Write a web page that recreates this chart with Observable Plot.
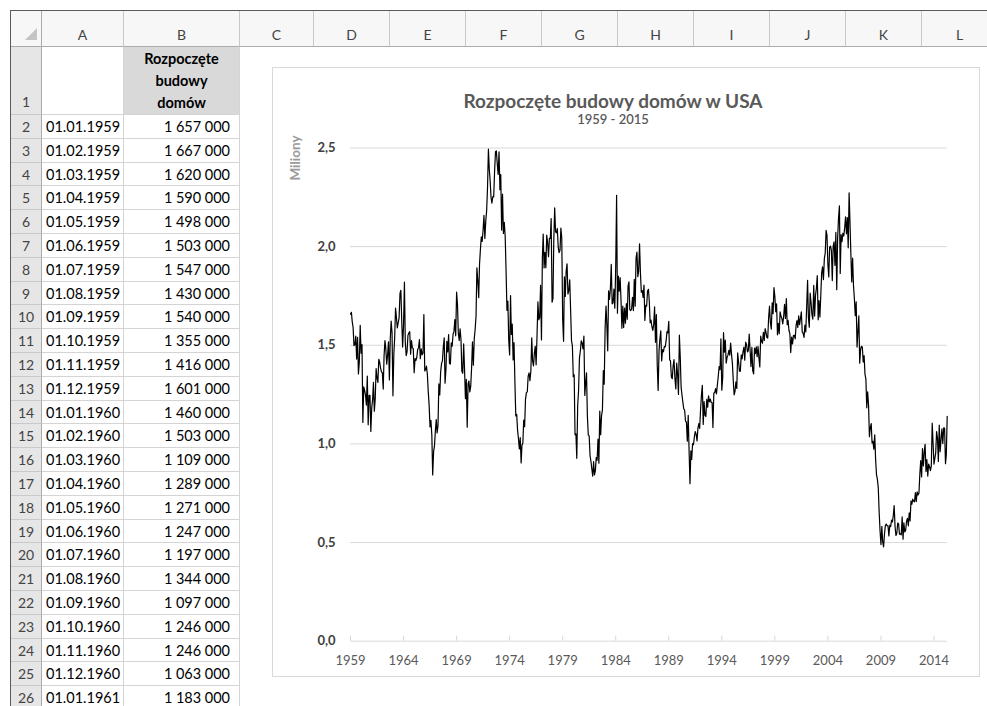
<!DOCTYPE html>
<html><head><meta charset="utf-8">
<script src="https://cdn.jsdelivr.net/npm/d3@7"></script>
<script src="https://cdn.jsdelivr.net/npm/@observablehq/plot@0.6"></script>
<style>
html,body{margin:0;padding:0;background:#fff;}
body{width:987px;height:706px;overflow:hidden;position:relative;font-family:Lato,"Open Sans",sans-serif;color:#000;}
.a{position:absolute;box-sizing:border-box;}
.colh{background:#f7f7f7;border-right:1px solid #c9c9c9;border-bottom:1px solid #ababab;text-align:center;color:#444;font-size:14px;padding-top:15px;}
.rowh{background:#e6e6e6;border-right:1px solid #ababab;border-bottom:1px solid #c9c9c9;text-align:center;color:#444;font-size:14px;}
.cell{border-right:1px solid #d4d4d4;border-bottom:1px solid #d4d4d4;font-size:14.5px;white-space:nowrap;}
#chartbox{left:272px;top:67px;width:708px;height:610px;border:1px solid #d9d9d9;background:#fff;}
#title{left:272px;width:682px;top:90px;height:22px;line-height:22px;text-align:center;font-weight:bold;font-size:19px;color:#595959;}
#subtitle{left:272px;width:682px;top:112px;height:14px;line-height:14px;text-align:center;font-size:13px;color:#595959;font-weight:600;}
#ylab{left:270px;top:150px;width:50px;height:16px;line-height:16px;text-align:center;font-size:13.5px;font-weight:bold;color:#9a9a9a;transform-origin:25px 8px;transform:rotate(-90deg);}
#plot{left:273px;top:130px;}
#plot svg g[aria-label="y-axis tick label"] text{font-weight:bold;font-size:13px;}
#plot svg g[aria-label="x-axis tick label"] text{font-size:13px;}
</style></head><body>
<div id="sheet"></div>
<div class="a" id="chartbox"></div>
<div class="a" id="title">Rozpoczęte budowy domów w USA</div>
<div class="a" id="subtitle">1959 - 2015</div>
<div class="a" id="ylab">Miliony</div>
<div class="a" id="plot"></div>
<script>
// Monthly US housing starts, thousands (seasonally adjusted annual rate)
const firstYear = 1959;
const starts1959_1963 = [
1657,1667,1620,1590,1498,1503,1547,1430,1540,1355,1416,1601,
1460,1503,1109,1289,1271,1247,1197,1344,1097,1246,1246,1063,
1183,1226,1312,1166,1228,1382,1335,1312,1429,1415,1385,1365,
1361,1278,1443,1524,1483,1404,1450,1517,1324,1533,1622,1564,
1244,1456,1534,1689,1641,1588,1614,1639,1763,1779,1622,1491];
const starts1964_1968 = [
1603,1820,1517,1448,1467,1550,1562,1569,1455,1524,1486,1484,
1361,1433,1423,1438,1478,1488,1529,1432,1482,1452,1460,1656,
1370,1378,1394,1352,1265,1194,1086,1119,1046,843,961,990,
1067,1123,1056,1091,1304,1248,1364,1407,1421,1491,1538,1308,
1380,1520,1466,1554,1408,1405,1512,1495,1556,1569,1630,1548];
const starts1969_1973 = [
1769,1705,1561,1524,1583,1528,1368,1358,1507,1381,1229,1327,
1085,1305,1319,1264,1290,1385,1517,1399,1534,1580,1647,1893,
1828,1741,1910,1986,2049,2026,2083,2158,2041,2128,2182,2295,
2494,2390,2334,2249,2221,2254,2252,2382,2481,2485,2421,2366,
2481,2289,2365,2084,2266,2067,2123,2051,1874,1677,1724,1526];
const starts1974_1978 = [
1451,1752,1555,1607,1426,1513,1316,1142,1150,1070,1026,975,
1032,904,993,1005,1121,1087,1226,1260,1264,1344,1360,1321,
1367,1538,1421,1395,1459,1495,1401,1550,1720,1629,1641,1804,
1527,1943,2063,1892,1971,1893,2058,2020,1949,2042,2042,2142,
1718,1738,2032,2197,2075,2070,2092,1996,1970,1981,2094,2044];
const starts1979_1983 = [
1630,1520,1847,1748,1876,1913,1760,1778,1832,1681,1524,1498,
1341,1350,1047,1051,927,1196,1269,1436,1471,1523,1510,1482,
1547,1246,1306,1360,1140,1045,1041,940,911,873,837,910,
843,866,931,917,1025,902,1166,1046,1144,1173,1372,1303,
1586,1699,1606,1472,1776,1733,1785,1910,1710,1715,1785,1688];
const starts1984_1988 = [
1897,2260,1663,1851,1774,1843,1732,1586,1698,1590,1689,1612,
1711,1632,1800,1821,1680,1676,1684,1743,1676,1834,1698,1942,
1972,1848,1876,2014,1868,1769,1778,1743,1805,1626,1703,1699,
1774,1784,1726,1614,1628,1594,1575,1605,1695,1515,1656,1400,
1271,1473,1532,1573,1421,1478,1467,1493,1492,1522,1569,1563];
const starts1989_1993 = [
1621,1425,1422,1339,1331,1397,1427,1332,1279,1410,1351,1251,
1551,1437,1289,1248,1212,1177,1171,1115,1110,1014,1145,969,
798,965,921,1001,996,1036,1063,1049,1015,1079,1103,1079,
1176,1250,1297,1099,1214,1145,1139,1226,1186,1244,1214,1227,
1210,1210,1083,1258,1260,1280,1254,1300,1343,1392,1376,1533];
const starts1994_1998 = [
1272,1337,1564,1465,1526,1409,1439,1450,1474,1450,1511,1455,
1407,1316,1249,1267,1314,1281,1461,1416,1369,1369,1452,1431,
1467,1491,1424,1516,1504,1467,1472,1557,1475,1392,1489,1370,
1355,1486,1457,1492,1442,1494,1437,1390,1546,1520,1510,1566,
1525,1584,1567,1540,1536,1641,1698,1614,1582,1715,1660,1792];
const starts1999_2003 = [
1748,1670,1710,1553,1611,1559,1669,1648,1635,1608,1648,1708,
1636,1737,1604,1626,1575,1559,1463,1541,1507,1549,1551,1532,
1600,1625,1590,1649,1605,1636,1670,1567,1562,1540,1602,1568,
1698,1829,1642,1592,1764,1717,1655,1633,1804,1648,1753,1788,
1853,1629,1726,1643,1751,1867,1897,1833,1939,1967,2083,2057];
const starts2004_2008 = [
1911,1846,1998,2003,1981,1828,2002,2024,1905,2072,1782,2042,
2144,2207,1864,2061,2025,2068,2054,2095,2151,2065,2147,1994,
2273,2119,1969,1821,1942,1802,1737,1650,1720,1491,1570,1649,
1409,1480,1495,1490,1415,1448,1354,1330,1183,1264,1197,1037,
1084,1103,1005,1013,973,1046,923,844,820,777,652,560];
const starts2009_2015 = [
490,582,505,478,540,585,594,586,585,534,588,581,
614,604,636,687,583,536,546,599,594,543,545,539,
630,517,600,554,561,608,623,585,650,610,711,694,
720,710,706,753,708,757,741,750,847,915,833,976,
888,962,998,860,920,837,898,885,865,889,1105,1003,
897,928,954,1063,1030,911,1095,961,1023,1077,1002,1081,
1080,900,944,1140];

const xTickYears = [1959,1964,1969,1974,1979,1984,1989,1994,1999,2004,2009,2014];
const yTicks = [0,0.5,1,1.5,2,2.5];
const columnLetters = ["A","B","C","D","E","F","G","H","I","J","K","L"];
const headerLines = ["Rozpoczęte","budowy","domów"];
const visibleRows = 25;

const allStarts = [].concat(starts1959_1963,starts1964_1968,starts1969_1973,starts1974_1978,
  starts1979_1983,starts1984_1988,starts1989_1993,starts1994_1998,starts1999_2003,starts2004_2008,starts2009_2015);
const series = allStarts.map((v,i)=>({date:new Date(Date.UTC(firstYear+Math.floor(i/12), i%12, 1)), value:v/1000, raw:v}));

// ---- spreadsheet ----
const sheet = document.getElementById("sheet");
function box(cls, x, y, w, h, html, extra){
  const d = document.createElement("div");
  d.className = "a " + cls;
  d.style.left = x+"px"; d.style.top = y+"px"; d.style.width = w+"px"; d.style.height = h+"px";
  if (extra) Object.assign(d.style, extra);
  if (html != null) d.innerHTML = html;
  sheet.appendChild(d);
  return d;
}
const colX = [42,124,240,314,390,466,542,618,694,770,846,922];
const colW = [82,116,74,76,76,76,76,76,76,76,76,76];
const hdrB = 47, row1B = 115, rowH = 23.8;
// frame
box("", 10, 10, 977, 1, null, {background:"#5a5a5a"});
box("", 10, 10, 1, 696, null, {background:"#5a5a5a"});
// corner
box("colh", 11, 11, 31, hdrB-11, "", {padding:0,borderRight:"1px solid #ababab"});
box("", 25, 28, 12, 12, null, {background:"#c4c4c4", clipPath:"polygon(100% 0,100% 100%,0 100%)"});
columnLetters.forEach((c,i)=>{
  box("colh", colX[i], 11, colW[i], hdrB-11, c);
});
// row 1
box("rowh", 11, hdrB, 31, row1B-hdrB, "1", {paddingTop:(row1B-hdrB-22)+"px"});
box("cell", colX[0], hdrB, colW[0], row1B-hdrB, "");
box("cell", colX[1], hdrB, colW[1], row1B-hdrB, headerLines.join("<br>"),
  {background:"#d9d9d9", textAlign:"center", fontWeight:"bold", lineHeight:"22px", paddingTop:"1px"});
const fmtNum = v => d3.format(",")(v*1000).replace(/,/g, "\u2005");
const fmtDate = d => d3.utcFormat("%d.%m.%Y")(d);
for (let r=0; r<visibleRows; r++){
  const y = row1B + r*rowH;
  box("rowh", 11, y, 31, rowH, String(r+2), {lineHeight:(rowH+1)+"px"});
  box("cell", colX[0], y, colW[0], rowH, fmtDate(series[r].date), {paddingLeft:"4px", lineHeight:(rowH+1)+"px"});
  box("cell", colX[1], y, colW[1], rowH, fmtNum(series[r].raw), {textAlign:"right", paddingRight:"9px", lineHeight:(rowH+1)+"px"});
}

// ---- chart ----
const xTicks = xTickYears.map(y=>new Date(Date.UTC(y,0,1)));
const commaFmt = v => v.toFixed(1).replace(".", ",");
const last = series[series.length-1].date;
const chart = Plot.plot({
  width: 706, height: 546,
  marginLeft: 77, marginRight: 32.3, marginTop: 17.5, marginBottom: 35.3,
  style: {fontFamily: "Lato, sans-serif", background: "transparent", overflow: "visible"},
  x: {type: "utc", domain: [series[0].date, last]},
  y: {domain: [0, 2.5]},
  marks: [
    Plot.gridY(yTicks.filter(v=>v>0), {stroke:"#d9d9d9", strokeOpacity:1, strokeWidth:1}),
    Plot.ruleY([0], {stroke:"#d9d9d9", strokeWidth:1}),
    Plot.ruleX(xTicks, {x: d=>d, y1: 0, y2: 0.026, stroke:"#d9d9d9"}),
    Plot.line(series, {x:"date", y:"value", stroke:"#000", strokeWidth:1.2}),
    Plot.axisY(yTicks, {tickSize:0, tickPadding:15, fontSize:13, fill:"#404040", label:null, tickFormat: commaFmt}),
    Plot.axisX(xTicks, {tickSize:0, tickPadding:15, fontSize:13, fill:"#595959", label:null, tickFormat: d3.utcFormat("%Y")})
  ]
});
document.getElementById("plot").appendChild(chart);
</script>
</body></html>
